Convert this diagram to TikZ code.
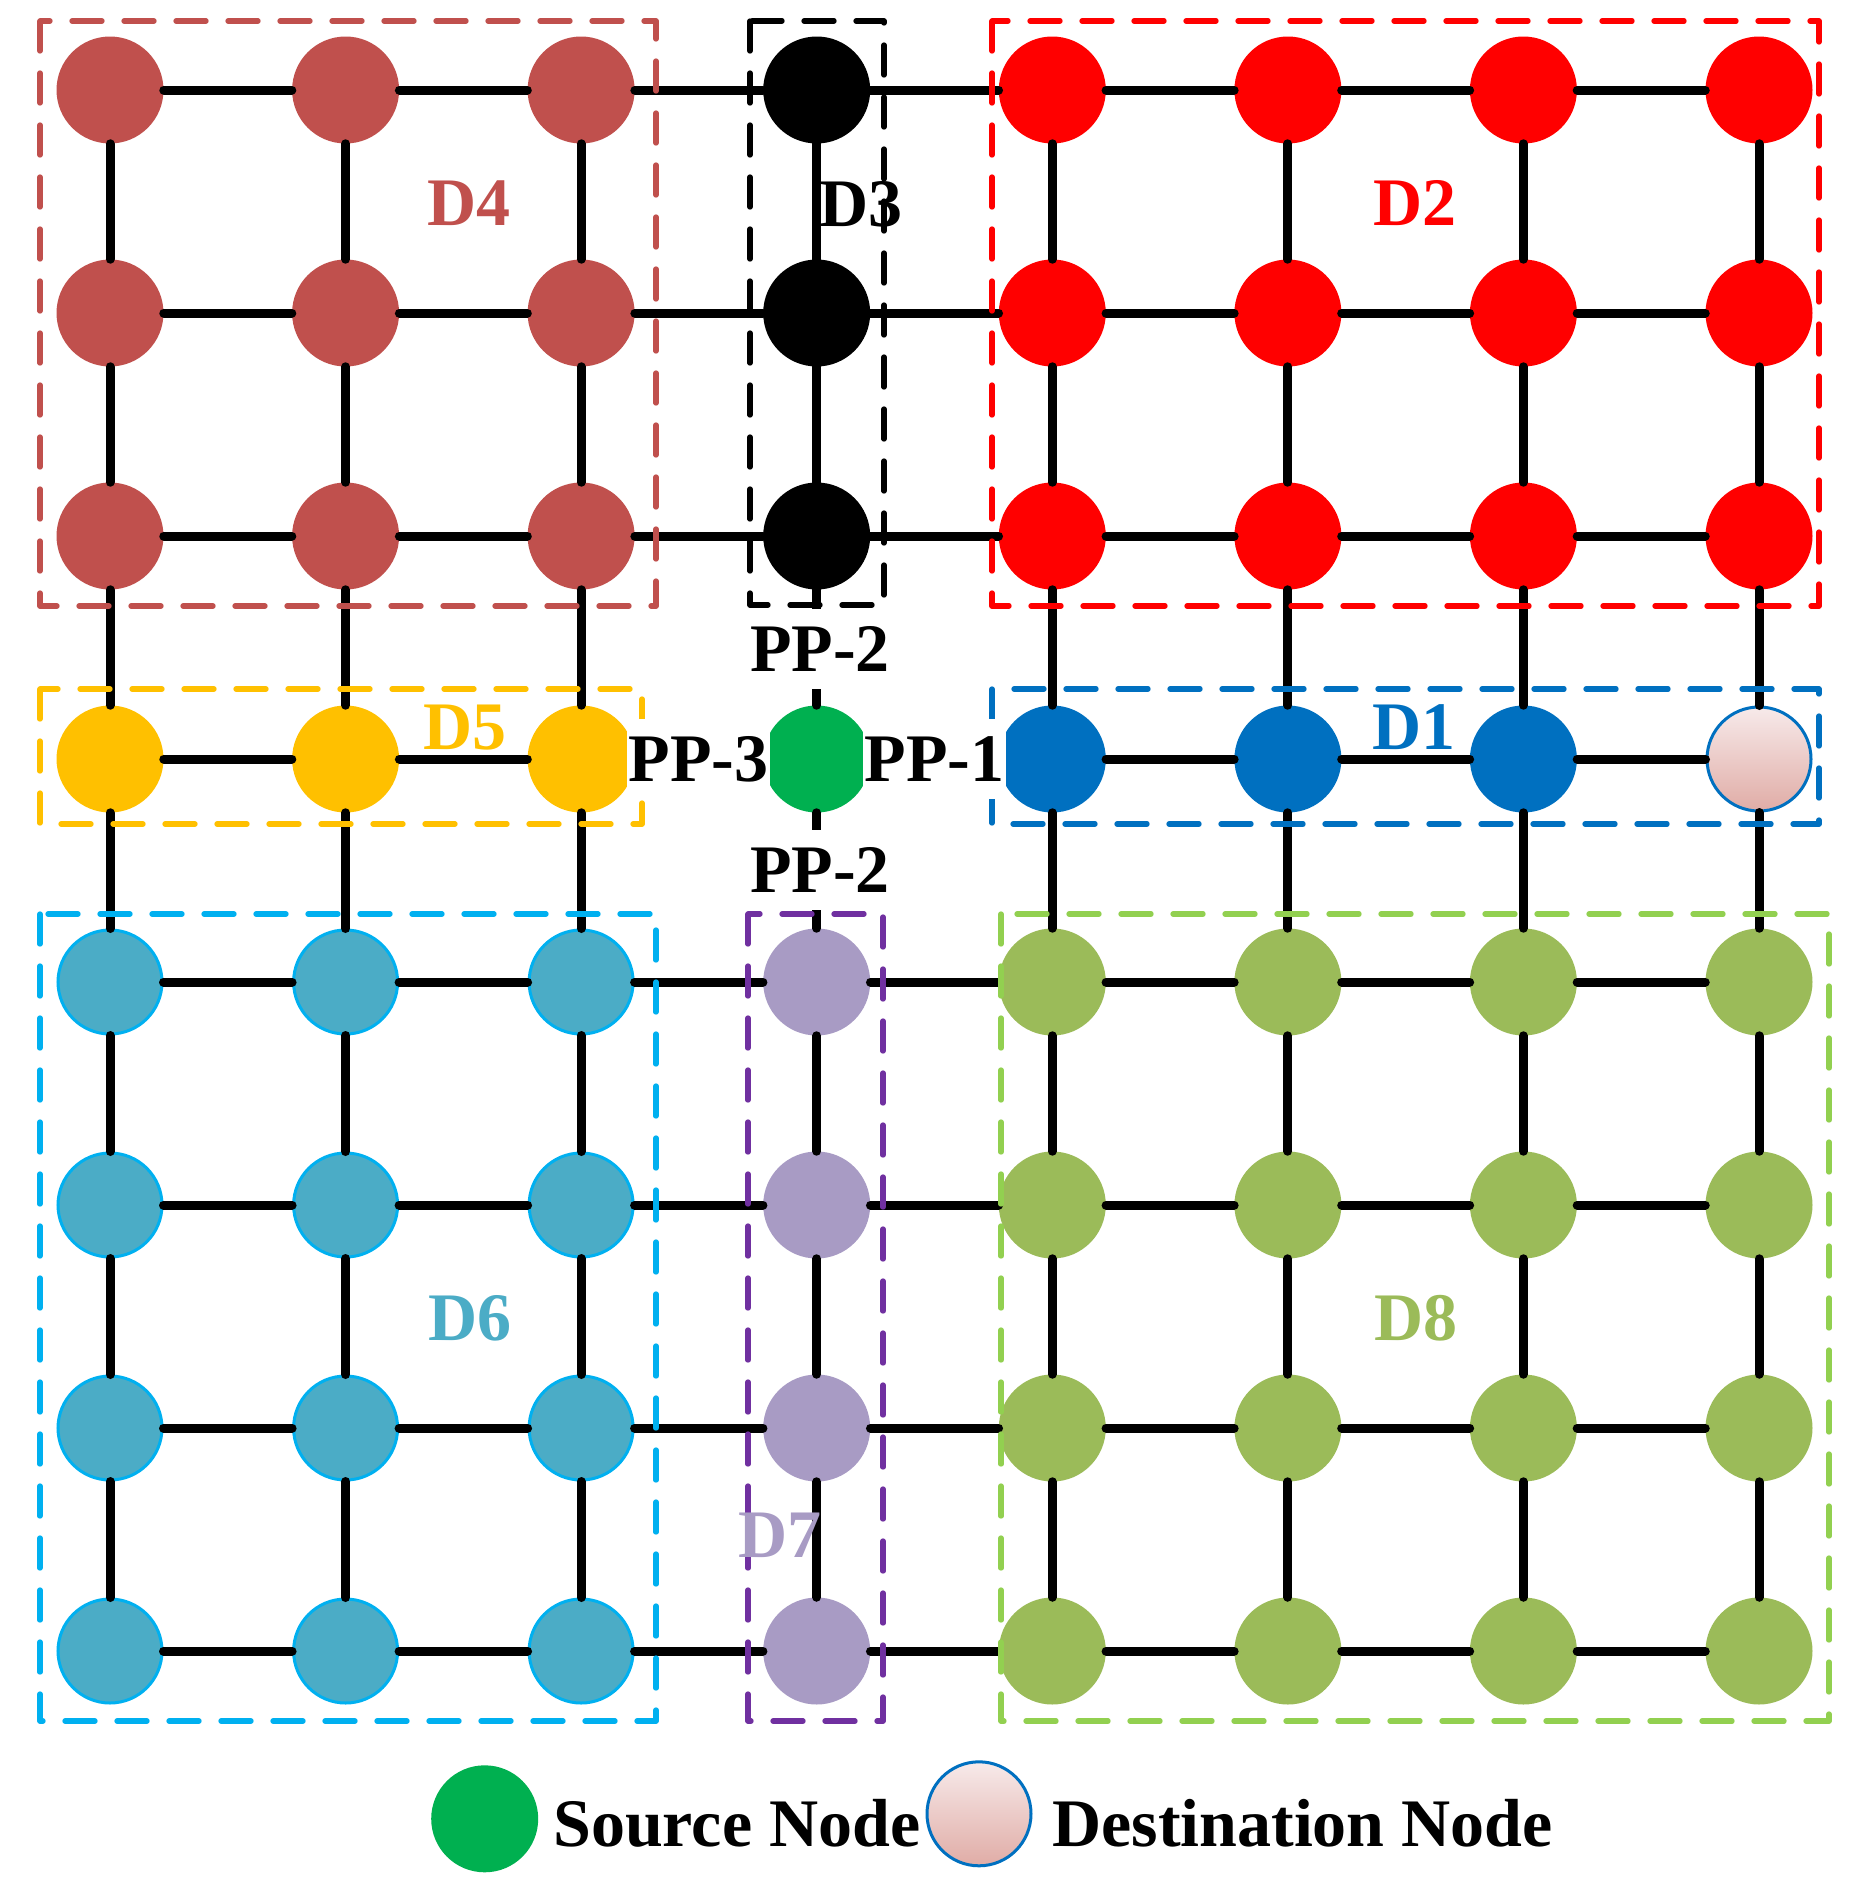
\documentclass[tikz,border=0pt]{standalone}
\usepackage{fontspec}
\setmainfont{Liberation Serif}
\usepackage{tikz}
\usetikzlibrary{shapes.geometric}

\tikzset{
  gridnode/.style={circle, inner sep=0pt, minimum size=80.25pt, draw=none},
  d4node/.style={gridnode, fill={rgb, 255:red, 192; green, 80; blue, 77}},
  d3node/.style={gridnode, fill=black},
  d2node/.style={gridnode, fill={rgb, 255:red, 255; green, 0; blue, 0}},
  d5node/.style={gridnode, fill={rgb, 255:red, 255; green, 192; blue, 0}},
  d1node/.style={gridnode, fill={rgb, 255:red, 0; green, 112; blue, 192}},
  d6node/.style={gridnode, minimum size=78pt, line width=2.25pt, fill={rgb, 255:red, 75; green, 172; blue, 198}, draw={rgb, 255:red, 0; green, 176; blue, 240}},
  d7node/.style={gridnode, fill={rgb, 255:red, 168; green, 155; blue, 196}},
  d8node/.style={gridnode, fill={rgb, 255:red, 155; green, 187; blue, 89}},
  srcnode/.style={gridnode, fill={rgb, 255:red, 0; green, 176; blue, 80}},
  dstnode/.style={gridnode, minimum size=78pt, line width=2.25pt, draw={rgb, 255:red, 0; green, 112; blue, 192}, top color={rgb, 255:red, 247; green, 234; blue, 234}, bottom color={rgb, 255:red, 224; green, 172; blue, 166}},
  link/.style={line width=6.75pt, line cap=round, color=black},
  dbox/.style={line width=4pt, line cap=round, line join=round, dash pattern={on 22.5pt off 16.5pt}},
  lab/.style={font=\bfseries\fontsize{51}{60}\selectfont, inner sep=0pt},
  pplab/.style={lab, fill=white, inner xsep=1.3pt, inner ysep=0pt, minimum height=60pt},
}

\begin{document}
\begin{tikzpicture}[x=0.75pt,y=0.75pt,yscale=-1,xscale=1]
\useasboundingbox (0,0) rectangle (1871,1888);

% Row 0
\draw (110,90) node [d4node] (n00) {};
\draw (345.6,90) node [d4node] (n01) {};
\draw (581.1,90) node [d4node] (n02) {};
\draw (816.7,90) node [d3node] (n03) {};
\draw (1052.3,90) node [d2node] (n04) {};
\draw (1287.9,90) node [d2node] (n05) {};
\draw (1523.4,90) node [d2node] (n06) {};
\draw (1759,90) node [d2node] (n07) {};
% Row 1
\draw (110,313) node [d4node] (n10) {};
\draw (345.6,313) node [d4node] (n11) {};
\draw (581.1,313) node [d4node] (n12) {};
\draw (816.7,313) node [d3node] (n13) {};
\draw (1052.3,313) node [d2node] (n14) {};
\draw (1287.9,313) node [d2node] (n15) {};
\draw (1523.4,313) node [d2node] (n16) {};
\draw (1759,313) node [d2node] (n17) {};
% Row 2
\draw (110,536) node [d4node] (n20) {};
\draw (345.6,536) node [d4node] (n21) {};
\draw (581.1,536) node [d4node] (n22) {};
\draw (816.7,536) node [d3node] (n23) {};
\draw (1052.3,536) node [d2node] (n24) {};
\draw (1287.9,536) node [d2node] (n25) {};
\draw (1523.4,536) node [d2node] (n26) {};
\draw (1759,536) node [d2node] (n27) {};
% Row 3
\draw (110,759) node [d5node] (n30) {};
\draw (345.6,759) node [d5node] (n31) {};
\draw (581.1,759) node [d5node] (n32) {};
\draw (816.7,759) node [srcnode] (n33) {};
\draw (1052.3,759) node [d1node] (n34) {};
\draw (1287.9,759) node [d1node] (n35) {};
\draw (1523.4,759) node [d1node] (n36) {};
\draw (1759,759) node [dstnode] (n37) {};
% Row 4
\draw (110,982) node [d6node] (n40) {};
\draw (345.6,982) node [d6node] (n41) {};
\draw (581.1,982) node [d6node] (n42) {};
\draw (816.7,982) node [d7node] (n43) {};
\draw (1052.3,982) node [d8node] (n44) {};
\draw (1287.9,982) node [d8node] (n45) {};
\draw (1523.4,982) node [d8node] (n46) {};
\draw (1759,982) node [d8node] (n47) {};
% Row 5
\draw (110,1205) node [d6node] (n50) {};
\draw (345.6,1205) node [d6node] (n51) {};
\draw (581.1,1205) node [d6node] (n52) {};
\draw (816.7,1205) node [d7node] (n53) {};
\draw (1052.3,1205) node [d8node] (n54) {};
\draw (1287.9,1205) node [d8node] (n55) {};
\draw (1523.4,1205) node [d8node] (n56) {};
\draw (1759,1205) node [d8node] (n57) {};
% Row 6
\draw (110,1428) node [d6node] (n60) {};
\draw (345.6,1428) node [d6node] (n61) {};
\draw (581.1,1428) node [d6node] (n62) {};
\draw (816.7,1428) node [d7node] (n63) {};
\draw (1052.3,1428) node [d8node] (n64) {};
\draw (1287.9,1428) node [d8node] (n65) {};
\draw (1523.4,1428) node [d8node] (n66) {};
\draw (1759,1428) node [d8node] (n67) {};
% Row 7
\draw (110,1651) node [d6node] (n70) {};
\draw (345.6,1651) node [d6node] (n71) {};
\draw (581.1,1651) node [d6node] (n72) {};
\draw (816.7,1651) node [d7node] (n73) {};
\draw (1052.3,1651) node [d8node] (n74) {};
\draw (1287.9,1651) node [d8node] (n75) {};
\draw (1523.4,1651) node [d8node] (n76) {};
\draw (1759,1651) node [d8node] (n77) {};

% Horizontal links
\draw [link] (n00) -- (n01) -- (n02) -- (n03) -- (n04) -- (n05) -- (n06) -- (n07);
\draw [link] (n10) -- (n11) -- (n12) -- (n13) -- (n14) -- (n15) -- (n16) -- (n17);
\draw [link] (n20) -- (n21) -- (n22) -- (n23) -- (n24) -- (n25) -- (n26) -- (n27);
\draw [link] (n30) -- (n31) -- (n32) -- (n33) -- (n34) -- (n35) -- (n36) -- (n37);
\draw [link] (n40) -- (n41) -- (n42) -- (n43) -- (n44) -- (n45) -- (n46) -- (n47);
\draw [link] (n50) -- (n51) -- (n52) -- (n53) -- (n54) -- (n55) -- (n56) -- (n57);
\draw [link] (n60) -- (n61) -- (n62) -- (n63) -- (n64) -- (n65) -- (n66) -- (n67);
\draw [link] (n70) -- (n71) -- (n72) -- (n73) -- (n74) -- (n75) -- (n76) -- (n77);
% Vertical links
\draw [link] (n00) -- (n10) -- (n20) -- (n30) -- (n40) -- (n50) -- (n60) -- (n70);
\draw [link] (n01) -- (n11) -- (n21) -- (n31) -- (n41) -- (n51) -- (n61) -- (n71);
\draw [link] (n02) -- (n12) -- (n22) -- (n32) -- (n42) -- (n52) -- (n62) -- (n72);
\draw [link] (n03) -- (n13) -- (n23) -- (n33) -- (n43) -- (n53) -- (n63) -- (n73);
\draw [link] (n04) -- (n14) -- (n24) -- (n34) -- (n44) -- (n54) -- (n64) -- (n74);
\draw [link] (n05) -- (n15) -- (n25) -- (n35) -- (n45) -- (n55) -- (n65) -- (n75);
\draw [link] (n06) -- (n16) -- (n26) -- (n36) -- (n46) -- (n56) -- (n66) -- (n76);
\draw [link] (n07) -- (n17) -- (n27) -- (n37) -- (n47) -- (n57) -- (n67) -- (n77);

% Domain boxes
\draw [dbox, color={rgb, 255:red, 192; green, 80; blue, 77}] (40,21) rectangle (656,606);
\draw [dbox, color=black] (750,21) rectangle (884,605);
\draw [dbox, color={rgb, 255:red, 255; green, 0; blue, 0}] (992,21) rectangle (1819,606);
\draw [dbox, color={rgb, 255:red, 255; green, 192; blue, 0}] (40,689) rectangle (642,824);
\draw [dbox, color={rgb, 255:red, 0; green, 112; blue, 192}] (992,689) rectangle (1819,824);
\draw [dbox, color={rgb, 255:red, 0; green, 176; blue, 240}] (40,914) rectangle (656,1721);
\draw [dbox, color={rgb, 255:red, 112; green, 48; blue, 160}] (748,914) rectangle (883,1721);
\draw [dbox, color={rgb, 255:red, 146; green, 208; blue, 80}] (1001,914) rectangle (1829,1721);

% Domain labels
\draw (469,203) node [lab, text={rgb, 255:red, 192; green, 80; blue, 77}] (labd4) {D4};
\draw (861,204) node [lab, text=black] (labd3) {D3};
\draw (1415,203) node [lab, text={rgb, 255:red, 255; green, 0; blue, 0}] (labd2) {D2};
\draw (465,728) node [lab, text={rgb, 255:red, 255; green, 192; blue, 0}] (labd5) {D5};
\draw (1414,727) node [lab, text={rgb, 255:red, 0; green, 112; blue, 192}] (labd1) {D1};
\draw (470,1318) node [lab, text={rgb, 255:red, 75; green, 172; blue, 198}] (labd6) {D6};
\draw (780,1535) node [lab, text={rgb, 255:red, 168; green, 155; blue, 196}] (labd7) {D7};
\draw (1416,1318) node [lab, text={rgb, 255:red, 155; green, 187; blue, 89}] (labd8) {D8};

% Port labels
\draw (820,649) node [pplab] (pp2up) {PP-2};
\draw (820,870) node [pplab] (pp2dn) {PP-2};
\draw (698.5,759) node [pplab] (pp3) {PP-3};
\draw (934.5,759) node [pplab] (pp1) {PP-1};

% Legend
\draw (484.7,1818.8) node [srcnode] (keysrc) {};
\draw (553,1846) node [lab, anchor=base west] (keysrctxt) {Source Node};
\draw (979,1813.8) node [dstnode] (keydst) {};
\draw (1052,1846) node [lab, anchor=base west] (keydsttxt) {Destination Node};

\end{tikzpicture}
\end{document}
